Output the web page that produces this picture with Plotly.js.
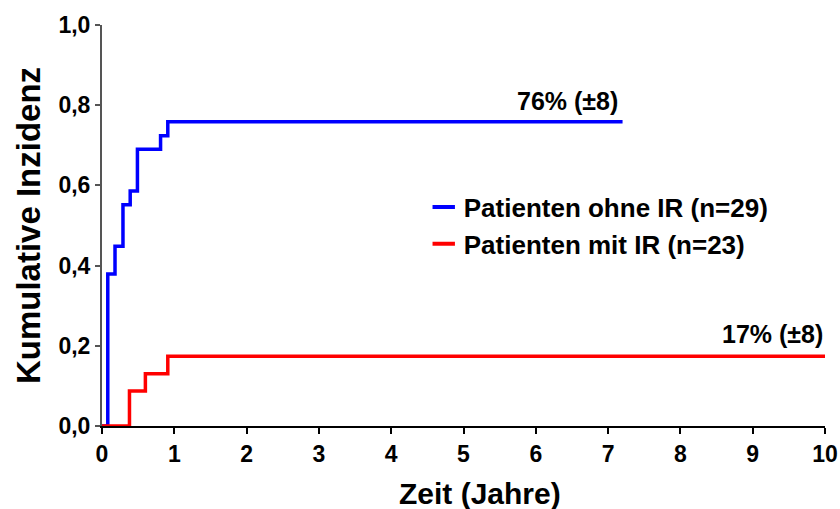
<!DOCTYPE html>
<html>
<head>
<meta charset="utf-8">
<script src="https://cdn.plot.ly/plotly-3.0.1.min.js"></script>
<style>html,body{margin:0;padding:0;background:#fff;}#chart{width:840px;height:509px;}</style>
</head>
<body>
<div id="chart"></div>
<script>
// Time points (years) and cumulative incidence values, step function (hv)
const blueTime = [0, 0.08, 0.18, 0.29, 0.39, 0.49, 0.81, 0.91, 7.2];
const blueVal  = [0, 0.379, 0.448, 0.552, 0.586, 0.690, 0.724, 0.759, 0.759];
const redTime  = [0, 0.38, 0.60, 0.91, 10];
const redVal   = [0, 0.087, 0.130, 0.174, 0.174];
const blueName = "Patienten ohne IR (n=29)";
const redName  = "Patienten mit IR (n=23)";
const blueLabel = "76% (±8)";
const redLabel  = "17% (±8)";
const xTitle = "Zeit (Jahre)";
const yTitle = "Kumulative Inzidenz";
const xTicks = [0,1,2,3,4,5,6,7,8,9,10];
const yTicks = [0,0.2,0.4,0.6,0.8,1.0];

const font = "Liberation Sans, Arial, sans-serif";
const BLUE = "#0000ff", RED = "#ff0000";

const traces = [
  {x: blueTime, y: blueVal, mode: "lines", line: {shape: "hv", color: BLUE, width: 3.5}, name: blueName, showlegend: false, cliponaxis: false},
  {x: redTime, y: redVal, mode: "lines", line: {shape: "hv", color: RED, width: 3.5}, name: redName, showlegend: false, cliponaxis: false},
  // legend entries (short dash symbols like in the reference)
  {x: [null], y: [null], mode: "markers", name: blueName, marker: {symbol: "line-ew-open", size: 17, color: BLUE, line: {color: BLUE, width: 4}}},
  {x: [null], y: [null], mode: "markers", name: redName, marker: {symbol: "line-ew-open", size: 17, color: RED, line: {color: RED, width: 4}}}
];

const layout = {
  width: 840, height: 509,
  margin: {l: 102, r: 15, t: 25, b: 83},
  paper_bgcolor: "#fff", plot_bgcolor: "#fff",
  font: {family: font, color: "#000"},
  showlegend: true,
  legend: {x: 0.445, y: 0.5, xanchor: "left", yanchor: "middle", bgcolor: "rgba(0,0,0,0)",
           font: {size: 26, family: font, weight: "bold"}, tracegroupgap: 0, itemwidth: 30},
  xaxis: {
    range: [0, 10], tickvals: xTicks, ticktext: xTicks.map(String),
    showgrid: false, zeroline: false, showline: true, linecolor: "#000", linewidth: 2,
    ticks: "outside", ticklen: 6, tickwidth: 2, tickcolor: "#000",
    tickfont: {size: 23, family: font, weight: "bold"}
  },
  yaxis: {
    range: [0, 1], tickvals: yTicks, tickformat: ".1f",
    showgrid: false, zeroline: false, showline: true, linecolor: "#555", linewidth: 2,
    ticks: "outside", ticklen: 5, tickwidth: 2, tickcolor: "#555",
    tickfont: {size: 23, family: font, weight: "bold"},
    title: {text: yTitle, font: {size: 33, family: font, weight: "bold"}, standoff: 8}
  },
  separators: ",.",
  annotations: [
    {x: 0.523, y: 0, xref: "paper", yref: "paper", yanchor: "middle", yshift: -67, text: xTitle,
     showarrow: false, font: {size: 30, family: font, weight: "bold"}},
    {x: blueTime[blueTime.length-1], y: blueVal[blueVal.length-1], xref: "x", yref: "y", text: blueLabel,
     showarrow: false, xanchor: "right", yanchor: "bottom", yshift: 5, xshift: -3,
     font: {size: 25, family: font, weight: "bold"}},
    {x: redTime[redTime.length-1], y: redVal[redVal.length-1], xref: "x", yref: "y", text: redLabel,
     showarrow: false, xanchor: "right", yanchor: "bottom", yshift: 6,
     font: {size: 25, family: font, weight: "bold"}}
  ]
};

Plotly.newPlot("chart", traces, layout, {displayModeBar: false, staticPlot: true});
</script>
</body>
</html>
